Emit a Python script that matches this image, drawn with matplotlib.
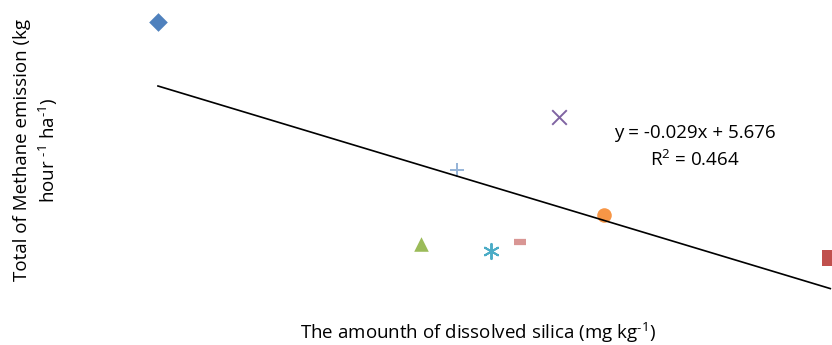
import numpy as np
import matplotlib.pyplot as plt

plt.rcParams['font.family'] = ['Open Sans', 'DejaVu Sans']
plt.rcParams['mathtext.default'] = 'regular'

# dissolved silica (x) and methane emission (y), one point per treatment
silica = [30, 149, 76.5, 101, 89, 109, 83, 94]
methane = [5.90, 1.88, 2.11, 4.28, 2.0, 2.61, 3.38, 2.15]
markers = ['D', 's', '^', 'x', (6, 2, 0), 'o', '+', '_']
colors = ['#4F81BD', '#C0504D', '#9BBB59', '#8064A2', '#4BACC6',
          '#F79646', '#95B3D7', '#D99694']
sizes = [90, 120, 110, 110, 120, 110, 110, 110]

slope, intercept = -0.029, 5.676

fig = plt.figure(figsize=(8.32, 3.45), dpi=100)
ax = fig.add_axes([0, 0, 1, 1])
ax.set_xlim(2.04, 149.3)
ax.set_ylim(0.394, 6.271)
ax.axis('off')

for x, y, m, c, s in zip(silica, methane, markers, colors, sizes):
    if m == '_':
        ax.plot(x, y, marker='_', markersize=8, mew=4.5, color=c, clip_on=False)
        continue
    lw = 1.4 if m in ('x', '+', (6, 2, 0)) else 0
    ax.scatter(x, y, marker=m, s=s, color=c, linewidths=lw, clip_on=False)

xs = np.array([min(silica), max(silica)])
ax.plot(xs, slope * xs + intercept, color='black', lw=1.2)

fs = 13.5
fig.text(0.835, 0.614, 'y = -0.029x + 5.676', ha='center', va='center', fontsize=fs)
fig.text(0.835, 0.536, 'R$^2$ = 0.464', ha='center', va='center', fontsize=fs)

fig.text(0.575, 0.036, 'The amounth of dissolved silica (mg kg$^{\u20101}$)',
         ha='center', va='center', fontsize=fs)
fig.text(0.044, 0.565, 'Total of Methane emission (kg\nhour $^{\u20101}$ ha$^{\u20101}$)',
         ha='center', va='center', rotation=90, fontsize=fs, linespacing=1.3)

fig.savefig('out.png', dpi=100)
